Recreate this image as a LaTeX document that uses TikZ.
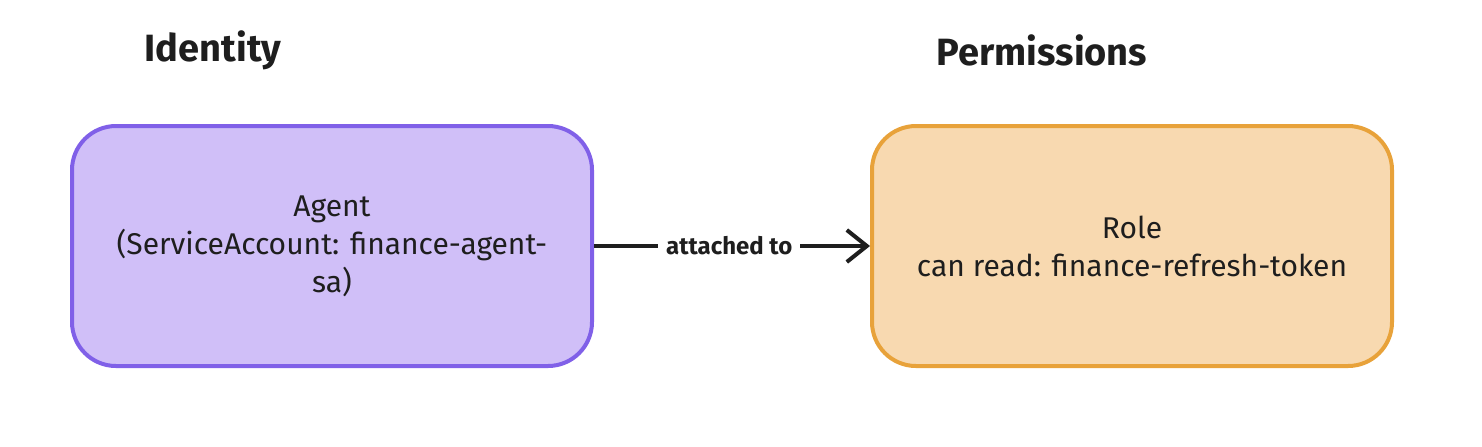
\documentclass[tikz,border=0pt]{standalone}
\usepackage{fontspec}
\setmainfont{Fira Sans}
\usetikzlibrary{arrows.meta}
\definecolor{pfill}{HTML}{D0BFF8}
\definecolor{pline}{HTML}{8060E8}
\definecolor{ofill}{HTML}{F8D9B0}
\definecolor{oline}{HTML}{E8A23A}
\definecolor{ink}{HTML}{1E1E1E}
\begin{document}
\begin{tikzpicture}[x=0.5pt,y=-0.5pt,
  box/.style={rounded corners=22pt,line width=2pt,minimum width=260pt,minimum height=120pt,align=center,font=\fontsize{15}{19}\selectfont\mdseries,text=ink},
  title/.style={font=\fontsize{19}{22}\selectfont\bfseries,text=ink}]
\useasboundingbox (0,0) rectangle (1482,446);
\node[title] (t1) at (213,50) {Identity};
\node[title] (t2) at (1042,50) {Permissions};
\node[box,fill=pfill,draw=pline] (a) at (332,246) {Agent\\(ServiceAccount: finance-agent-\\sa)};
\node[box,fill=ofill,draw=oline] (r) at (1132,246) {Role\\can read: finance-refresh-token};
\draw[ink,line width=2pt,-{Straight Barb[length=10pt,width=16pt,line width=2pt]}] (a.east) -- node[fill=white,font=\fontsize{12}{14}\selectfont\bfseries,text=ink,inner xsep=4pt,pos=0.49]{attached to} (r.west);
\end{tikzpicture}
\end{document}
